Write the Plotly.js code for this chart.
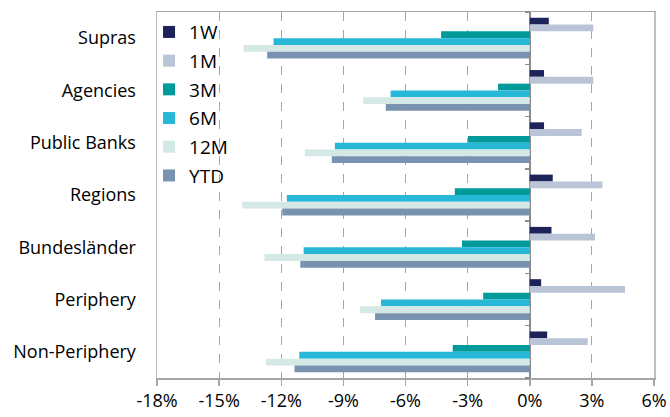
<!DOCTYPE html>
<html>
<head>
<meta charset="utf-8">
<script src="https://cdn.plot.ly/plotly-3.0.1.min.js"></script>
<style>html,body{margin:0;padding:0;background:#fff;}#chart{width:670px;height:417px;}</style>
</head>
<body>
<div id="chart"></div>
<script>
const categories = ['Supras', 'Agencies', 'Public Banks', 'Regions', 'Bundesländer', 'Periphery', 'Non-Periphery'];
const seriesNames = ['1W', '1M', '3M', '6M', '12M', 'YTD'];
const v1W  = [0.92, 0.69, 0.69, 1.11, 1.05, 0.55, 0.84];
const v1M  = [3.07, 3.07, 2.51, 3.51, 3.15, 4.60, 2.80];
const v3M  = [-4.28, -1.53, -2.98, -3.62, -3.27, -2.25, -3.72];
const v6M  = [-12.37, -6.72, -9.41, -11.73, -10.92, -7.18, -11.13];
const v12M = [-13.82, -8.04, -10.86, -13.88, -12.81, -8.19, -12.74];
const vYTD = [-12.68, -6.95, -9.56, -11.95, -11.08, -7.47, -11.36];
const xTickVals = [-18, -15, -12, -9, -6, -3, 0, 3, 6];
const xTickText = ['-18%', '-15%', '-12%', '-9%', '-6%', '-3%', '0%', '3%', '6%'];

const seriesValues = [v1W, v1M, v3M, v6M, v12M, vYTD];
const colors = ['#1c2359', '#b9c5d7', '#009a9a', '#27b8d8', '#d4e9e5', '#7892b0'];
const FONT = 'Open Sans, sans-serif';

const traces = seriesNames.map((name, i) => ({
  type: 'bar',
  orientation: 'h',
  name: name,
  y: categories,
  x: seriesValues[i],
  marker: {color: colors[i], line: {width: 0}},
  legendgroup: name,
  hoverinfo: 'x+y'
}));
// helper trace for the category-boundary ticks on the zero axis
traces.push({type: 'scatter', x: [], y: [], yaxis: 'y2', showlegend: false, hoverinfo: 'skip'});

const layout = {
  width: 670, height: 417,
  margin: {l: 157, r: 16, t: 12, b: 39, pad: 0},
  paper_bgcolor: '#ffffff', plot_bgcolor: '#ffffff',
  font: {family: FONT, size: 18, color: '#000000'},
  barmode: 'group', bargap: 0.22, bargroupgap: 0,
  showlegend: true,
  legend: {
    x: -0.016, y: 0.997, xanchor: 'left', yanchor: 'top',
    bgcolor: 'rgba(255,255,255,0)', borderwidth: 0,
    traceorder: 'grouped', tracegroupgap: 1,
    font: {family: FONT, size: 19, color: '#000000'},
    itemwidth: 30
  },
  xaxis: {
    range: [-18, 6],
    tickvals: xTickVals, ticktext: xTickText,
    showgrid: true, gridcolor: '#a6a6a6', gridwidth: 1, griddash: 'dash',
    zeroline: true, zerolinecolor: '#8c8c8c', zerolinewidth: 1.5,
    showline: true, linecolor: '#a6a6a6', linewidth: 1.5, mirror: true,
    ticks: 'outside', ticklen: 6, tickcolor: '#a6a6a6', tickwidth: 1.5,
    tickfont: {family: FONT, size: 18, color: '#000000'},
    fixedrange: true
  },
  yaxis: {
    type: 'category', categoryorder: 'array', categoryarray: categories,
    autorange: 'reversed',
    showgrid: false, zeroline: false,
    showline: true, linecolor: '#bfbfbf', linewidth: 1.5, mirror: true,
    ticks: '', ticklabelstandoff: 16,
    tickfont: {family: FONT, size: 18, color: '#000000'},
    fixedrange: true
  },
  yaxis2: {
    overlaying: 'y', anchor: 'free', position: 18 / 24, side: 'left',
    range: [6.5, -0.5], tickvals: [-0.5, 0.5, 1.5, 2.5, 3.5, 4.5, 5.5, 6.5],
    ticks: 'outside', ticklen: 5, tickcolor: '#8c8c8c', tickwidth: 1.5,
    showticklabels: false, showgrid: false, zeroline: false, showline: false,
    fixedrange: true
  }
};

Plotly.newPlot('chart', traces, layout, {displayModeBar: false, staticPlot: true});
</script>
</body>
</html>
